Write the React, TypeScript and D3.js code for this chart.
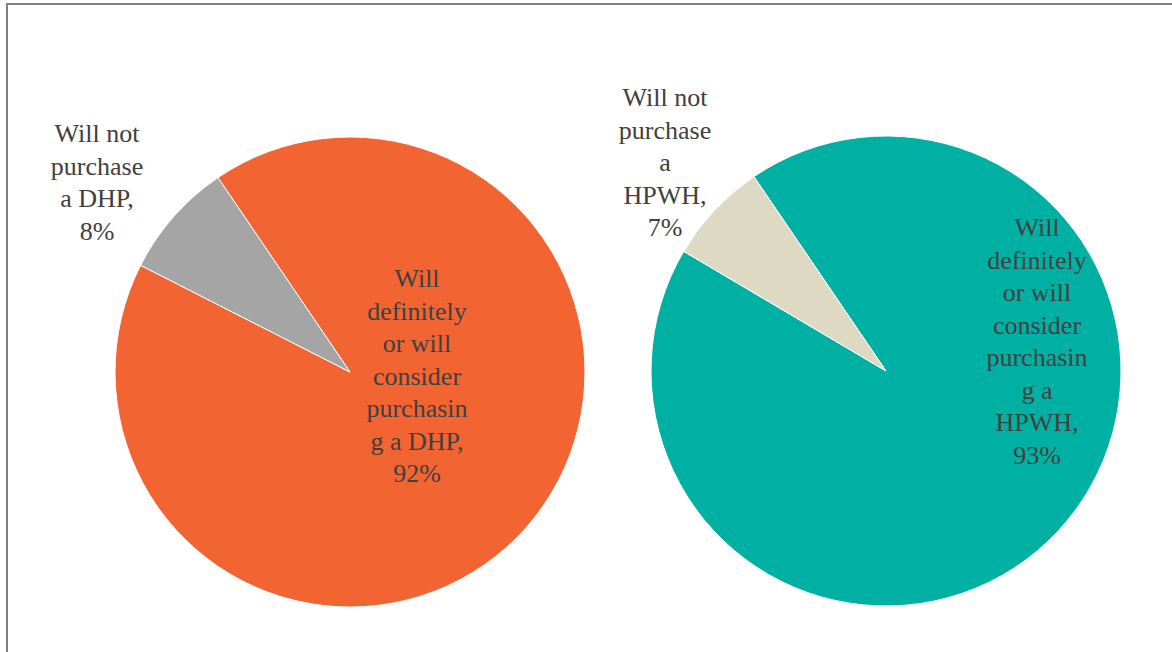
import React from "react";
import * as d3 from "d3";

const dhpCategories = ["Will definitely or will consider purchasing a DHP", "Will not purchase a DHP"];
const dhpValues = [92, 8];
const dhpColors = ["#F26532", "#A5A5A5"];
const dhpLabels = [
  ["Will", "definitely", "or will", "consider", "purchasin", "g a DHP,", "92%"],
  ["Will not", "purchase", "a DHP,", "8%"],
];

const hpwhCategories = ["Will definitely or will consider purchasing a HPWH", "Will not purchase a HPWH"];
const hpwhValues = [93, 7];
const hpwhColors = ["#00B0A2", "#DDD9C3"];
const hpwhLabels = [
  ["Will", "definitely", "or will", "consider", "purchasin", "g a", "HPWH,", "93%"],
  ["Will not", "purchase", "a", "HPWH,", "7%"],
];

const W = 1172;
const H = 652;
const R = 235;
const START = (-34.2 * Math.PI) / 180;
const LINE = 32.5;
const FONT = "Liberation Serif";

type PieProps = {
  cx: number;
  cy: number;
  values: number[];
  colors: string[];
  labels: string[][];
  labelPos: [number, number][];
};

function Pie({ cx, cy, values, colors, labels, labelPos }: PieProps) {
  const pie = d3.pie<number>().sort(null).startAngle(START).endAngle(START + 2 * Math.PI);
  const arcs = pie(values);
  const arc = d3.arc<d3.PieArcDatum<number>>().innerRadius(0).outerRadius(R);
  return (
    <g>
      <g transform={`translate(${cx},${cy})`}>
        {arcs.map((a, i) => (
          <path key={i} d={arc(a) || ""} fill={colors[i]} stroke="#ffffff" strokeWidth={1} />
        ))}
      </g>
      {labels.map((lines, i) => (
        <text
          key={i}
          x={labelPos[i][0]}
          y={labelPos[i][1]}
          textAnchor="middle"
          fontFamily={FONT}
          fontSize={26}
          fill="#404040"
        >
          {lines.map((l, j) => (
            <tspan key={j} x={labelPos[i][0]} dy={j === 0 ? 0 : LINE}>
              {l}
            </tspan>
          ))}
        </text>
      ))}
    </g>
  );
}

export default function App() {
  return (
    <svg width={W} height={H} style={{ position: "absolute", left: 0, top: 0, display: "block" }}>
      <rect x={0} y={0} width={W} height={H} fill="#ffffff" />
      <rect x={7} y={4} width={W + 20} height={H + 20} fill="none" stroke="#808080" strokeWidth={2} />
      <Pie
        cx={350}
        cy={372}
        values={dhpValues}
        colors={dhpColors}
        labels={dhpLabels}
        labelPos={[
          [417, 287],
          [97, 142],
        ]}
      />
      <Pie
        cx={886}
        cy={371}
        values={hpwhValues}
        colors={hpwhColors}
        labels={hpwhLabels}
        labelPos={[
          [1037, 236],
          [665, 106],
        ]}
      />
      <title>{dhpCategories.concat(hpwhCategories).join("; ")}</title>
    </svg>
  );
}
